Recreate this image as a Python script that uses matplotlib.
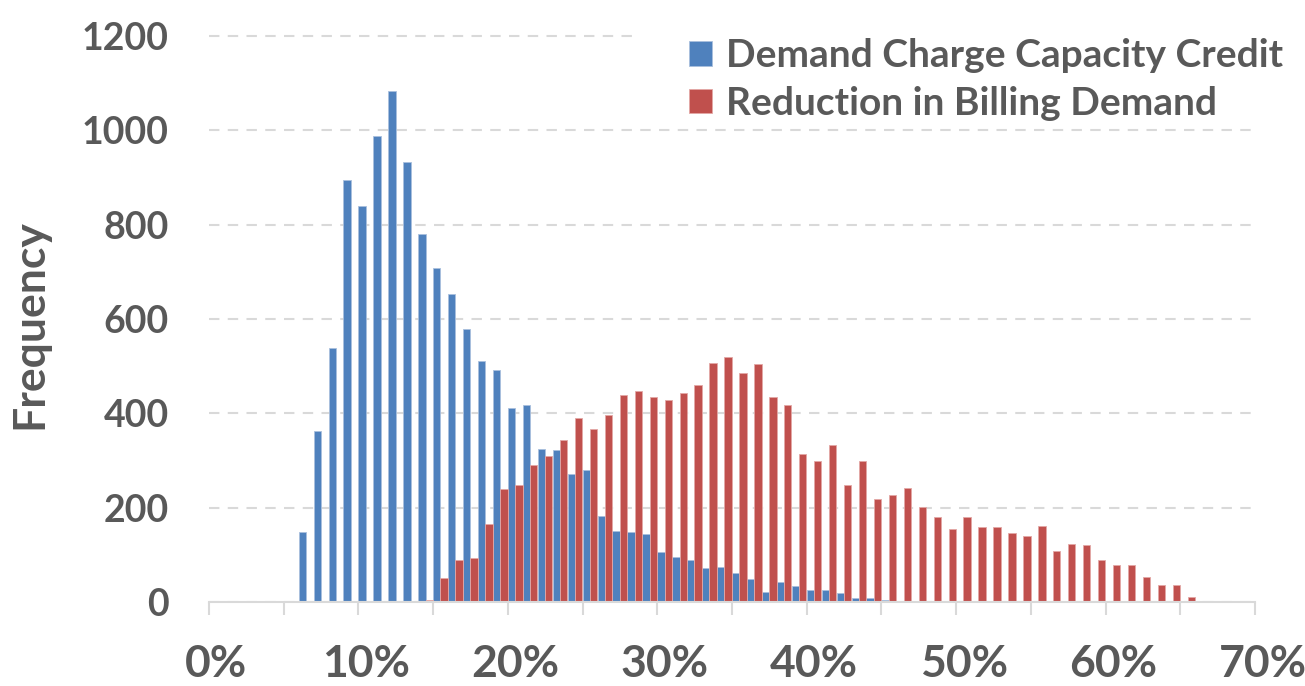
import numpy as np
import matplotlib.pyplot as plt

plt.rcParams['font.family'] = ['Lato', 'DejaVu Sans']
plt.rcParams['font.weight'] = 'bold'

# 1% bins, 0% .. 69%
pct = np.arange(70)
capacity_credit = [0, 0, 0, 0, 0, 2, 148, 362, 539, 894,
                   839, 989, 1084, 932, 780, 709, 653, 578, 512, 492,
                   411, 418, 325, 323, 271, 279, 182, 150, 149, 144,
                   105, 95, 89, 72, 75, 62, 48, 21, 43, 34,
                   26, 25, 19, 8, 8, 5, 3, 1, 0, 0,
                   0, 0, 0, 0, 0, 0, 0, 0, 0, 0,
                   0, 0, 0, 0, 0, 0, 0, 0, 0, 0]
billing_reduction = [0, 0, 0, 0, 0, 0, 0, 0, 0, 0,
                     0, 0, 0, 0, 4, 50, 90, 93, 166, 240,
                     249, 290, 310, 344, 391, 367, 396, 438, 448, 434,
                     429, 443, 461, 507, 519, 485, 505, 434, 418, 313,
                     300, 333, 248, 299, 218, 226, 242, 201, 180, 154,
                     181, 160, 160, 146, 140, 161, 109, 122, 121, 88,
                     79, 79, 54, 35, 35, 11, 2, 0, 0, 0]
x_labels = ['0%', '10%', '20%', '30%', '40%', '50%', '60%', '70%']
y_ticks = [0, 200, 400, 600, 800, 1000, 1200]

txt = '#595959'
grid = '#d9d9d9'

fig = plt.figure(figsize=(13.05, 6.86), dpi=100)
ax = fig.add_axes([209/1305, 84/686, 1046/1305, 566/686])

w = 0.49
ax.bar(pct, capacity_credit, width=w, align='edge', color='#4F81BD',
       edgecolor='#a9c0de', linewidth=0.6, label='Demand Charge Capacity Credit', zorder=2)
ax.bar(pct + w, billing_reduction, width=w, align='edge', color='#C0504D',
       edgecolor='#e3a8a6', linewidth=0.6, label='Reduction in Billing Demand', zorder=2)

ax.set_xlim(0, 70)
ax.set_ylim(0, 1200)

for s in ['top', 'right', 'left']:
    ax.spines[s].set_visible(False)
ax.spines['bottom'].set_color(grid)
ax.spines['bottom'].set_linewidth(1.5)
ax.spines['bottom'].set_zorder(3)

ax.set_yticks(y_ticks)
ax.set_yticklabels([str(v) for v in y_ticks], fontweight='bold')
ax.tick_params(axis='y', length=0, pad=29, labelsize=27, labelcolor=txt)
ax.yaxis.grid(True, color=grid, linestyle=(0, (5, 4)), linewidth=1.5, zorder=0)
ax.set_axisbelow(True)
ax.get_ygridlines()[-1].set_visible(False)
ax.axhline(1200, xmax=0.412, color=grid, linestyle=(0, (5, 4)), linewidth=1.5,
           clip_on=False, zorder=0)

# ticks every 5 bins, labels every 10 bins (centred on the bin, last one past the axis end)
ax.set_xticks(np.arange(0, 71, 5))
ax.set_xticklabels([])
ax.tick_params(axis='x', length=9.5, width=1.5, color=grid)
for k, lab in enumerate(x_labels):
    ax.text(k * 10 + 0.5, -0.075, lab, transform=ax.get_xaxis_transform(),
            ha='center', va='top', fontsize=32, fontweight='bold', color=txt)

ax.text(-0.172, 0.491, 'Frequency', transform=ax.transAxes, rotation=90,
        ha='center', va='center', fontsize=32, fontweight='bold', color=txt)

ax.legend(loc='upper left', bbox_to_anchor=(689/1305, 1 - 38/686),
          bbox_transform=fig.transFigure, frameon=False,
          prop={'size': 28, 'weight': 'bold'},
          labelcolor=txt, handlelength=0.6, handleheight=0.6,
          handletextpad=0.35, labelspacing=0.33, borderpad=0, borderaxespad=0)

fig.savefig('out.png', dpi=100)
